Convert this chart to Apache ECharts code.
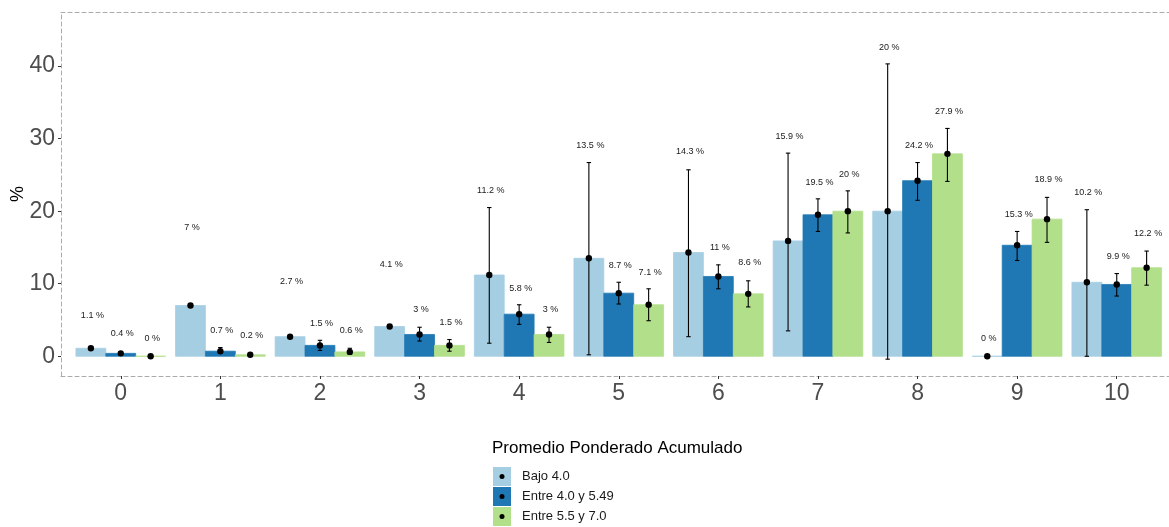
<!DOCTYPE html>
<html>
<head>
<meta charset="utf-8">
<script src="https://cdn.jsdelivr.net/npm/echarts@6/dist/echarts.min.js"></script>
<style>
  html, body { margin: 0; padding: 0; background: #ffffff; }
  #chart { width: 1169px; height: 527px; }
</style>
</head>
<body>
<div id="chart"></div>
<script>
// Categories on the x axis (0 .. 10)
const categories = [0, 1, 2, 3, 4, 5, 6, 7, 8, 9, 10];
const groupNames = ['Bajo 4.0', 'Entre 4.0 y 5.49', 'Entre 5.5 y 7.0'];
const groupColors = ['#A6CEE3', '#1F78B4', '#B2DF8A'];

// Percentages per group
const bajo  = [1.1, 7, 2.7, 4.1, 11.2, 13.5, 14.3, 15.9, 20, 0, 10.2];
const entre = [0.4, 0.7, 1.5, 3, 5.8, 8.7, 11, 19.5, 24.2, 15.3, 9.9];
const alto  = [0, 0.2, 0.6, 1.5, 3, 7.1, 8.6, 20, 27.9, 18.9, 12.2];

// Confidence interval bounds (null = no interval drawn)
const bajoLow   = [null, null, null, null, 1.8, 0.2, 2.7, 3.5, -0.4, null, 0.0];
const bajoHigh  = [null, null, null, null, 20.5, 26.7, 25.7, 28.0, 40.3, null, 20.2];
const entreLow  = [null, 0.4, 0.8, 2.1, 4.4, 7.2, 9.3, 17.2, 21.5, 13.2, 8.3];
const entreHigh = [null, 1.2, 2.2, 4.0, 7.1, 10.2, 12.6, 21.7, 26.7, 17.2, 11.4];
const altoLow   = [null, null, 0.3, 0.7, 1.9, 4.9, 6.8, 17.0, 24.1, 15.7, 9.8];
const altoHigh  = [null, null, 1.1, 2.3, 4.0, 9.3, 10.4, 22.8, 31.4, 21.9, 14.5];

// Height (in %) at which each value label sits
const bajoLabelAt  = [5.6, 17.8, 10.3, 12.6, 22.9, 29.0, 28.2, 30.3, 42.6, 2.4, 22.6];
const entreLabelAt = [3.1, 3.6, 4.5, 6.4, 9.4, 12.5, 15.0, 24.0, 29.0, 19.6, 13.8];
const altoLabelAt  = [2.5, 2.9, 3.5, 4.7, 6.5, 11.6, 12.9, 25.1, 33.7, 24.3, 16.9];

// Axis tick values
const xTicks = categories;
const yTicks = [0, 10, 20, 30, 40];

const values = [bajo, entre, alto];
const lows = [bajoLow, entreLow, altoLow];
const highs = [bajoHigh, entreHigh, altoHigh];
const labelAt = [bajoLabelAt, entreLabelAt, altoLabelAt];

const FONT = "'Liberation Sans', Arial, sans-serif";
const DODGE = 0.3;      // width of one bar in category units
const GRID = { left: 61, top: 12, width: 1115.5, height: 364 };
const LEGEND = { left: 493, top: 467, keyW: 18, keyH: 19, gap: 1 };

function barRenderer(g) {
  return function (params, api) {
    const x = api.value(0) + (g - 1) * DODGE;
    const v = api.value(1);
    const a = api.coord([x - DODGE / 2, v]);
    const b = api.coord([x + DODGE / 2, 0]);
    return {
      type: 'rect',
      shape: { x: a[0], y: Math.min(a[1], b[1]), width: b[0] - a[0], height: Math.abs(b[1] - a[1]) },
      style: { fill: groupColors[g], stroke: groupColors[g], lineWidth: 0.8 }
    };
  };
}

function overlayRenderer(g) {
  return function (params, api) {
    const i = params.dataIndex;
    const x = categories[i] + (g - 1) * DODGE;
    const v = values[g][i];
    const lo = lows[g][i], hi = highs[g][i];
    const children = [];
    if (lo !== null && hi !== null) {
      const pl = api.coord([x, lo]);
      const ph = api.coord([x, hi]);
      const cap = 2.2;
      const ls = { stroke: '#000', lineWidth: 1.1 };
      children.push({ type: 'line', shape: { x1: pl[0], y1: pl[1], x2: ph[0], y2: ph[1] }, style: ls });
      children.push({ type: 'line', shape: { x1: pl[0] - cap, y1: pl[1], x2: pl[0] + cap, y2: pl[1] }, style: ls });
      children.push({ type: 'line', shape: { x1: ph[0] - cap, y1: ph[1], x2: ph[0] + cap, y2: ph[1] }, style: ls });
    }
    const pv = api.coord([x, v]);
    children.push({ type: 'circle', shape: { cx: pv[0], cy: pv[1], r: 3.2 }, style: { fill: '#000' } });
    const pt = api.coord([x, labelAt[g][i]]);
    children.push({
      type: 'text',
      x: pt[0] + 1.5, y: pt[1],
      style: { text: v + ' %', fill: '#1a1a1a', font: '9px ' + FONT, align: 'center', verticalAlign: 'middle' }
    });
    return { type: 'group', children: children };
  };
}

const series = [];
for (let g = 0; g < 3; g++) {
  series.push({
    name: groupNames[g],
    type: 'custom',
    z: 2,
    itemStyle: { color: groupColors[g] },
    renderItem: barRenderer(g),
    data: categories.map((c, i) => [c, values[g][i]]),
    silent: true
  });
}
for (let g = 0; g < 3; g++) {
  series.push({
    name: groupNames[g] + ' IC',
    type: 'custom',
    z: 3,
    renderItem: overlayRenderer(g),
    data: categories.map((c, i) => [c, values[g][i]]),
    silent: true
  });
}

const dashLine = { show: true, onZero: false, lineStyle: { color: '#ababab', width: 1, type: [4, 3] } };

// Dots drawn on the legend keys
const legendDots = groupNames.map((n, k) => ({
  type: 'circle',
  left: LEGEND.left + LEGEND.keyW / 2 - 2.5,
  top: LEGEND.top + k * (LEGEND.keyH + LEGEND.gap) + LEGEND.keyH / 2 - 2.5,
  shape: { r: 2.5 },
  style: { fill: '#000' },
  z: 100
}));

const chart = echarts.init(document.getElementById('chart'), null, { renderer: 'canvas' });
chart.setOption({
  animation: false,
  backgroundColor: '#ffffff',
  grid: {
    left: GRID.left, top: GRID.top, width: GRID.width, height: GRID.height,
    containLabel: false, outerBoundsMode: 'none'
  },
  title: {
    text: 'Promedio Ponderado Acumulado',
    left: 492, top: 440,
    padding: 0,
    textStyle: { fontFamily: FONT, fontSize: 17, fontWeight: 'normal', color: '#000' }
  },
  legend: {
    data: groupNames,
    orient: 'vertical',
    left: LEGEND.left, top: LEGEND.top,
    padding: 0,
    icon: 'rect',
    itemWidth: LEGEND.keyW, itemHeight: LEGEND.keyH, itemGap: LEGEND.gap,
    selectedMode: false,
    textStyle: { fontFamily: FONT, fontSize: 13, color: '#1a1a1a', padding: [0, 0, 0, 6] }
  },
  xAxis: [{
    type: 'value', min: -0.6, max: 10.6, position: 'bottom',
    splitLine: { show: false },
    axisLine: dashLine,
    axisTick: { show: true, length: 3, customValues: xTicks, lineStyle: { color: '#333' } },
    axisLabel: { customValues: xTicks, fontFamily: FONT, fontSize: 23, color: '#4d4d4d', margin: 6 }
  }, {
    type: 'value', min: -0.6, max: 10.6, position: 'top',
    splitLine: { show: false },
    axisLine: dashLine,
    axisTick: { show: false }, axisLabel: { show: false }
  }],
  yAxis: [{
    type: 'value', min: -2.72, max: 47.45, position: 'left',
    name: '%', nameLocation: 'middle', nameGap: 34, nameRotate: 90, nameMoveOverlap: false,
    nameTextStyle: { fontFamily: FONT, fontSize: 18, color: '#000' },
    splitLine: { show: false },
    axisLine: dashLine,
    axisTick: { show: true, length: 3, customValues: yTicks, lineStyle: { color: '#333' } },
    axisLabel: { customValues: yTicks, fontFamily: FONT, fontSize: 23, color: '#4d4d4d', margin: 6 }
  }],
  graphic: legendDots,
  series: series
});
</script>
</body>
</html>
